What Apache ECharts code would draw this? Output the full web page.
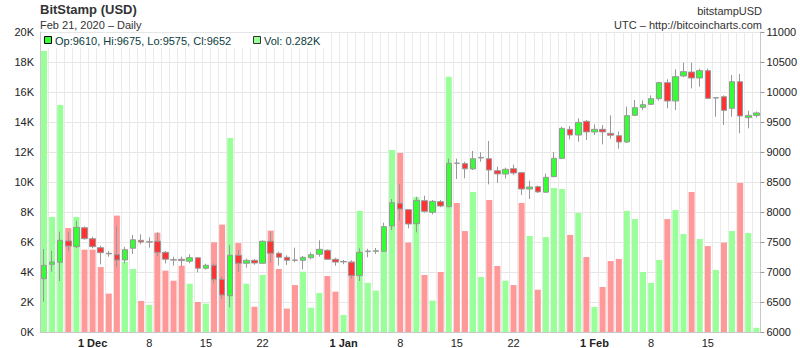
<!DOCTYPE html>
<html>
<head>
<meta charset="utf-8">
<script src="https://cdn.jsdelivr.net/npm/echarts@6/dist/echarts.min.js"></script>
<style>
html,body{margin:0;padding:0;background:#fff;}
#chart{width:800px;height:348px;}
</style>
</head>
<body>
<div id="chart"></div>
<script>
// ---- data ----
var startDate = '2019-11-25';
var dayCount = 89;
var opens = [6888,7128,7162,7517,7422,7738,7555,7405,7312,7288,7200,7395,7528,7498,7512,7328,7205,7212,7180,7238,7062,7112,6878,6605,7278,7145,7195,7145,7512,7312,7245,7200,7195,7238,7295,7362,7212,7168,7162,6940,7340,7345,7345,7767,8145,8039,7805,8189,7995,8172,8089,8815,8806,8717,8900,8889,8689,8633,8722,8656,8383,8422,8330,8589,8894,9378,9283,9511,9333,9378,9311,9272,9167,9611,9744,9794,9889,10156,9850,10267,10333,10233,10356,9900,9922,9728,10172,9572,9610];
var closes = [7111,7167,7528,7433,7745,7555,7422,7322,7302,7200,7372,7538,7500,7505,7328,7212,7198,7190,7238,7062,7112,6878,6617,7278,7145,7195,7150,7512,7312,7245,7195,7195,7245,7288,7378,7212,7165,7175,6940,7328,7350,7355,7755,8155,8050,7800,8194,8011,8178,8100,8811,8811,8720,8889,8910,8700,8635,8711,8650,8383,8417,8335,8578,8894,9394,9283,9494,9335,9378,9335,9280,9167,9606,9739,9789,9889,10156,9850,10256,10339,10233,10356,9894,9905,9694,10172,9600,9610,9652];
var lows = [6505,7005,6850,7350,7400,7540,7395,7128,7255,7078,7145,7300,7462,7405,7262,7145,7105,7100,7145,6995,7040,6812,6550,6412,7000,7072,7120,7140,7155,7105,7117,7162,7045,7212,7255,7200,7105,7130,6888,6850,7245,7300,7340,7700,7855,7728,7661,7990,7960,8080,8080,8550,8561,8700,8839,8461,8489,8560,8620,8283,8217,8320,8320,8580,8880,9211,9172,9200,9283,9128,9222,9055,9150,9600,9700,9790,9856,9728,9700,10250,10061,10089,9880,9589,9450,9589,9311,9394,9575];
var highs = [7383,7350,7672,7661,7855,7760,7588,7438,7350,7762,7422,7617,7628,7578,7662,7350,7255,7255,7295,7238,7138,7145,6922,7450,7367,7222,7215,7528,7672,7338,7278,7405,7267,7328,7528,7378,7238,7200,7195,7395,7388,7400,7822,8217,8461,8045,8255,8272,8200,8200,8889,8889,8839,9017,8995,9183,8756,8740,8790,8670,8522,8440,8640,9000,9420,9433,9561,9533,9461,9450,9611,9344,9756,9867,9860,9944,10170,10211,10378,10489,10489,10389,10389,9906,9944,10283,10300,9689,9675];
var volumesK = [18.73,7.67,15.13,6.93,7.67,5.49,5.49,4.33,2.56,7.76,4.67,4.2,2.07,1.8,6.62,4.09,3.42,4.42,3.22,2.0,1.89,5.98,7.16,12.93,5.93,3.22,1.69,3.8,6.76,4.2,1.56,3.13,4.02,1.62,2.6,3.73,2.69,1.13,4.71,8.07,3.28,2.76,7.02,12.13,11.93,5.96,9.0,3.8,2.09,4.0,17.02,8.6,6.73,9.33,3.67,8.8,4.4,3.42,3.13,8.6,6.4,2.82,6.33,9.6,9.53,6.47,7.93,5.0,1.67,3.0,4.73,4.87,8.07,7.53,4.0,3.27,4.8,7.53,8.13,6.53,9.33,6.2,5.73,4.13,5.96,6.73,9.93,6.6,0.282];
var monthNames = ['Jan','Feb','Mar','Apr','May','Jun','Jul','Aug','Sep','Oct','Nov','Dec'];
var labelDays = [1, 8, 15, 22];
var volTicks = [0, 20, 2];       // min, max, interval (K)
var priceTicks = [6000, 11000, 500];

// ---- build ----
var dates = [];
(function(){
  var d = new Date(startDate + 'T00:00:00Z');
  for (var i = 0; i < dayCount; i++) {
    var dd = new Date(d.getTime() + i * 86400000);
    dates.push(dd.getUTCFullYear() + '-' + (dd.getUTCMonth()+1) + '-' + dd.getUTCDate());
  }
})();
var candleData = opens.map(function(o, i){ return [o, closes[i], lows[i], highs[i]]; });
var volData = volumesK.map(function(v, i){
  return { value: v, itemStyle: { color: closes[i] >= opens[i] ? '#99ff99' : '#ff9999' } };
});

var FONT = '"Liberation Sans", Arial, sans-serif';
var chart = echarts.init(document.getElementById('chart'), null, { renderer: 'svg' });
chart.setOption({
  animation: false,
  backgroundColor: '#fff',
  grid: { left: 40, right: 39, top: 32, bottom: 16, containLabel: false },
  xAxis: {
    type: 'category',
    data: dates,
    boundaryGap: true,
    axisLine: { lineStyle: { color: '#c8c8c8' } },
    axisTick: { show: false },
    splitLine: { show: true, interval: 0, lineStyle: { color: '#ebebeb', width: 1 } },
    axisLabel: {
      interval: function(idx, val){ var p = val.split('-'); return labelDays.indexOf(+p[2]) >= 0; },
      formatter: function(val){
        var p = val.split('-');
        if (+p[2] === 1) return '{b|1 ' + monthNames[+p[1]-1] + '}';
        return p[2];
      },
      color: '#222', fontSize: 11, fontFamily: FONT, margin: 5,
      rich: { b: { fontWeight: 'bold', fontSize: 11, fontFamily: FONT, color: '#222' } }
    }
  },
  yAxis: [
    {
      type: 'value', min: volTicks[0], max: volTicks[1], interval: volTicks[2], position: 'left',
      axisLine: { show: true, lineStyle: { color: '#c8c8c8' } },
      axisTick: { show: false },
      splitLine: { show: true, lineStyle: { color: '#e6e6e6' } },
      axisLabel: { formatter: '{value}K', color: '#222', fontSize: 11, fontFamily: FONT, margin: 6 }
    },
    {
      type: 'value', min: priceTicks[0], max: priceTicks[1], interval: priceTicks[2], position: 'right',
      axisLine: { show: true, lineStyle: { color: '#c8c8c8' } },
      axisTick: { show: true, length: 4, lineStyle: { color: '#999' } },
      splitLine: { show: false },
      axisLabel: { formatter: function(v){ return String(v); }, color: '#222', fontSize: 11, fontFamily: FONT, margin: 6 }
    }
  ],
  series: [
    {
      type: 'bar', name: 'Vol', yAxisIndex: 0, data: volData, barWidth: 6,
      silent: true
    },
    {
      type: 'candlestick', name: 'Price', yAxisIndex: 1, data: candleData, barWidth: 6,
      silent: true,
      itemStyle: { color: '#33ff33', color0: '#ff3333', borderColor: '#999', borderColor0: '#999', borderWidth: 1 }
    }
  ],
  graphic: [
    { type: 'text', left: 40, top: 3, style: { text: 'BitStamp (USD)', font: 'bold 13px ' + FONT, fill: '#333' } },
    { type: 'text', left: 40, top: 19, style: { text: 'Feb 21, 2020 \u2013 Daily', font: '11px ' + FONT, fill: '#333' } },
    { type: 'text', right: 38, top: 5, style: { text: 'bitstampUSD', font: '11px ' + FONT, fill: '#333' } },
    { type: 'text', right: 38, top: 19, style: { text: 'UTC \u2013 http://bitcoincharts.com', font: '11px ' + FONT, fill: '#333' } },
    { type: 'rect', shape: { x: 41, y: 33, width: 289, height: 15 }, style: { fill: '#fff' }, z: 50 },
    { type: 'rect', shape: { x: 44.5, y: 36.5, width: 7, height: 7 }, style: { fill: '#33ff33', stroke: '#000', lineWidth: 1 }, z: 51 },
    { type: 'text', x: 55, y: 40.5, style: { text: 'Op:9610, Hi:9675, Lo:9575, Cl:9652', font: '11px ' + FONT, fill: '#0b3b3b', textVerticalAlign: 'middle' }, z: 51 },
    { type: 'rect', shape: { x: 253.5, y: 36.5, width: 7, height: 7 }, style: { fill: '#99ff99', stroke: '#333', lineWidth: 1 }, z: 51 },
    { type: 'text', x: 264, y: 40.5, style: { text: 'Vol: 0.282K', font: '11px ' + FONT, fill: '#0b3b3b', textVerticalAlign: 'middle' }, z: 51 }
  ]
});
</script>
</body>
</html>
